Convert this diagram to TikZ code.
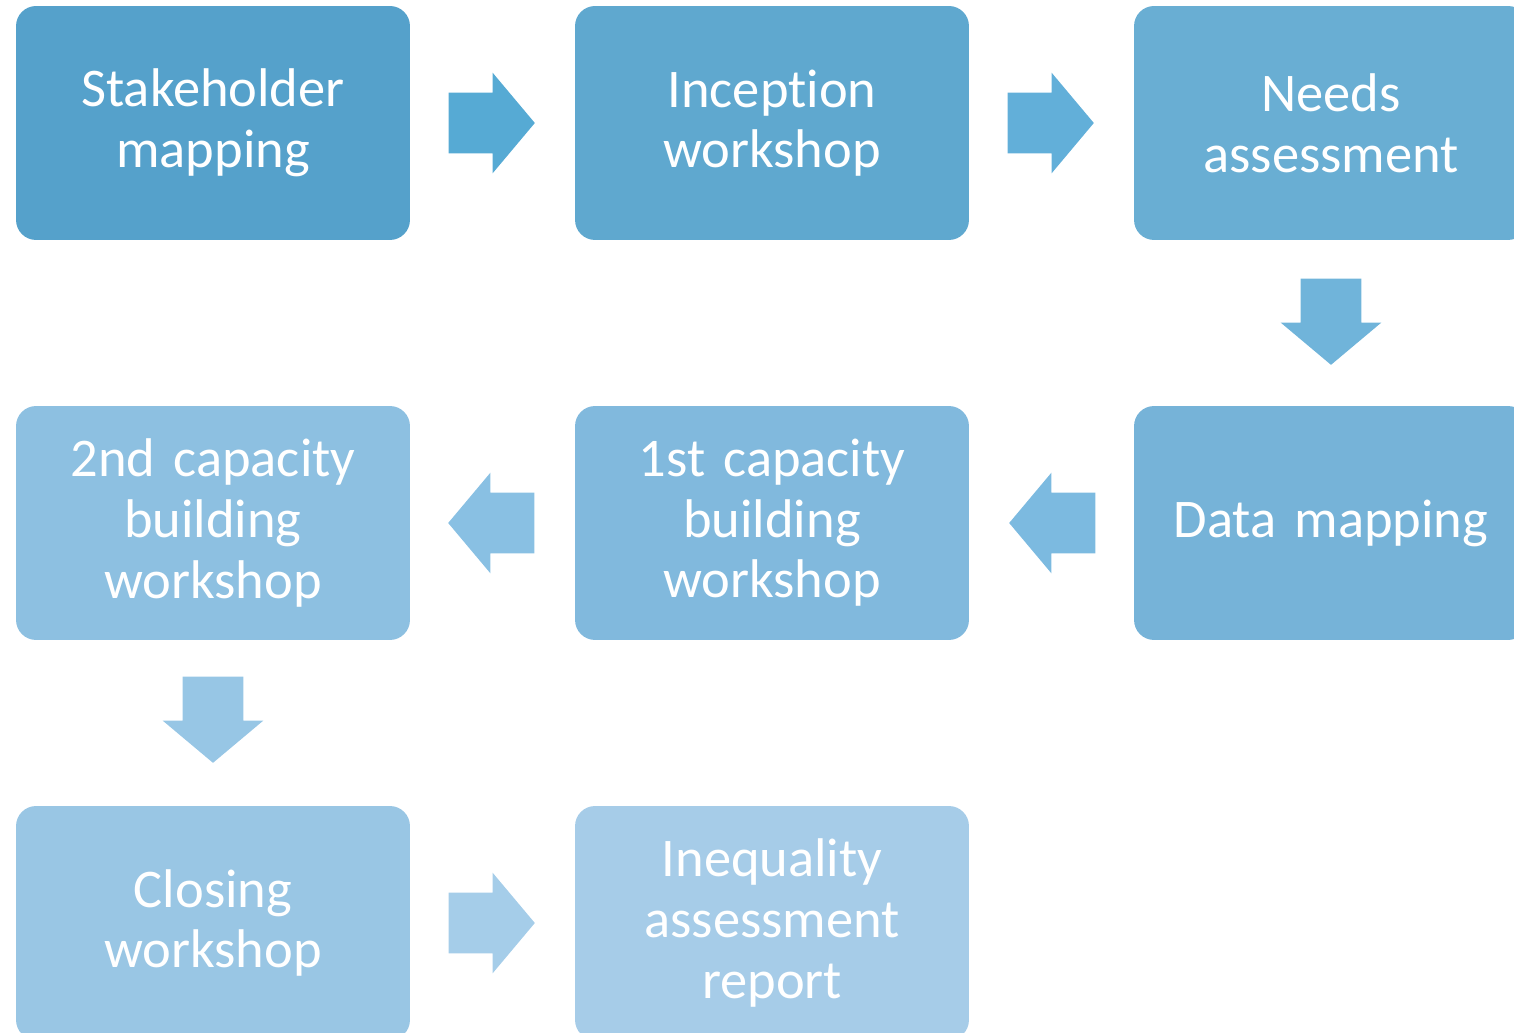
\documentclass[tikz,border=0pt]{standalone}
\usepackage{fontspec}
\setmainfont{Carlito}[Ligatures=NoCommon]
\usetikzlibrary{shapes.arrows,calc}
\definecolor{pasoa}{HTML}{55A1CB}
\definecolor{pasob}{HTML}{5FA8CF}
\definecolor{pasoc}{HTML}{69AED3}
\definecolor{pasod}{HTML}{76B3D8}
\definecolor{pasoe}{HTML}{81B9DD}
\definecolor{pasof}{HTML}{8DC0E1}
\definecolor{pasog}{HTML}{99C6E4}
\definecolor{pasoh}{HTML}{A6CCE8}
\definecolor{flechaa}{HTML}{56AAD4}
\definecolor{flechab}{HTML}{62AFD9}
\definecolor{flechac}{HTML}{70B4DA}
\definecolor{flechad}{HTML}{7CBAE0}
\definecolor{flechae}{HTML}{89C0E3}
\definecolor{flechaf}{HTML}{97C6E5}
\definecolor{flechag}{HTML}{A5CDE9}
\tikzstyle{etapa} = [rectangle, rounded corners=0.4cm, minimum width=7.88cm, minimum height=4.68cm, text width=7.4cm, align=center, text=white, inner sep=0pt, font=\fontsize{31}{34.5}\selectfont]
\tikzstyle{flecha} = [single arrow, minimum height=1.62cm, minimum width=2cm, single arrow head extend=0.4cm, single arrow tip angle=100, inner sep=0.6cm, anchor=tail]

\begin{document}
\begin{tikzpicture}[x=0.02cm, y=-0.02cm]
		\useasboundingbox (0,0) rectangle (1514,1033);
		% fila superior
		\node[etapa, fill=pasoa] (stake) at (213,123) {Stakeholder\\mapping};
		\node[etapa, fill=pasob] (incep) at (772,123) {Inception\\workshop};
		\node[etapa, fill=pasoc] (needs) at (1331,123) {Needs\\assessment};
		% fila media
		\node[etapa, fill=pasod] (datam) at (1331,523) {Data mapping};
		\node[etapa, fill=pasoe] (capa) at (772,523) {1st capacity\\building\\workshop};
		\node[etapa, fill=pasof] (capb) at (213,523) {2nd capacity\\building\\workshop};
		% fila inferior
		\node[etapa, fill=pasog] (closing) at (213,923) {Closing\\workshop};
		\node[etapa, fill=pasoh] (report) at (772,923) {Inequality\\assessment\\report};
		% flechas
		\node[flecha, fill=flechaa] (f1) at ($(stake.east)+(38,0)$) {};
		\node[flecha, fill=flechab] (f2) at ($(incep.east)+(38,0)$) {};
		\node[flecha, fill=flechac, shape border rotate=270] (f3) at ($(needs.south)+(0,38)$) {};
		\node[flecha, fill=flechad, shape border rotate=180] (f4) at ($(datam.west)+(-38,0)$) {};
		\node[flecha, fill=flechae, shape border rotate=180] (f5) at ($(capa.west)+(-40,0)$) {};
		\node[flecha, fill=flechaf, shape border rotate=270] (f6) at ($(capb.south)+(0,36)$) {};
		\node[flecha, fill=flechag] (f7) at ($(closing.east)+(38,0)$) {};
	\end{tikzpicture}
\end{document}
